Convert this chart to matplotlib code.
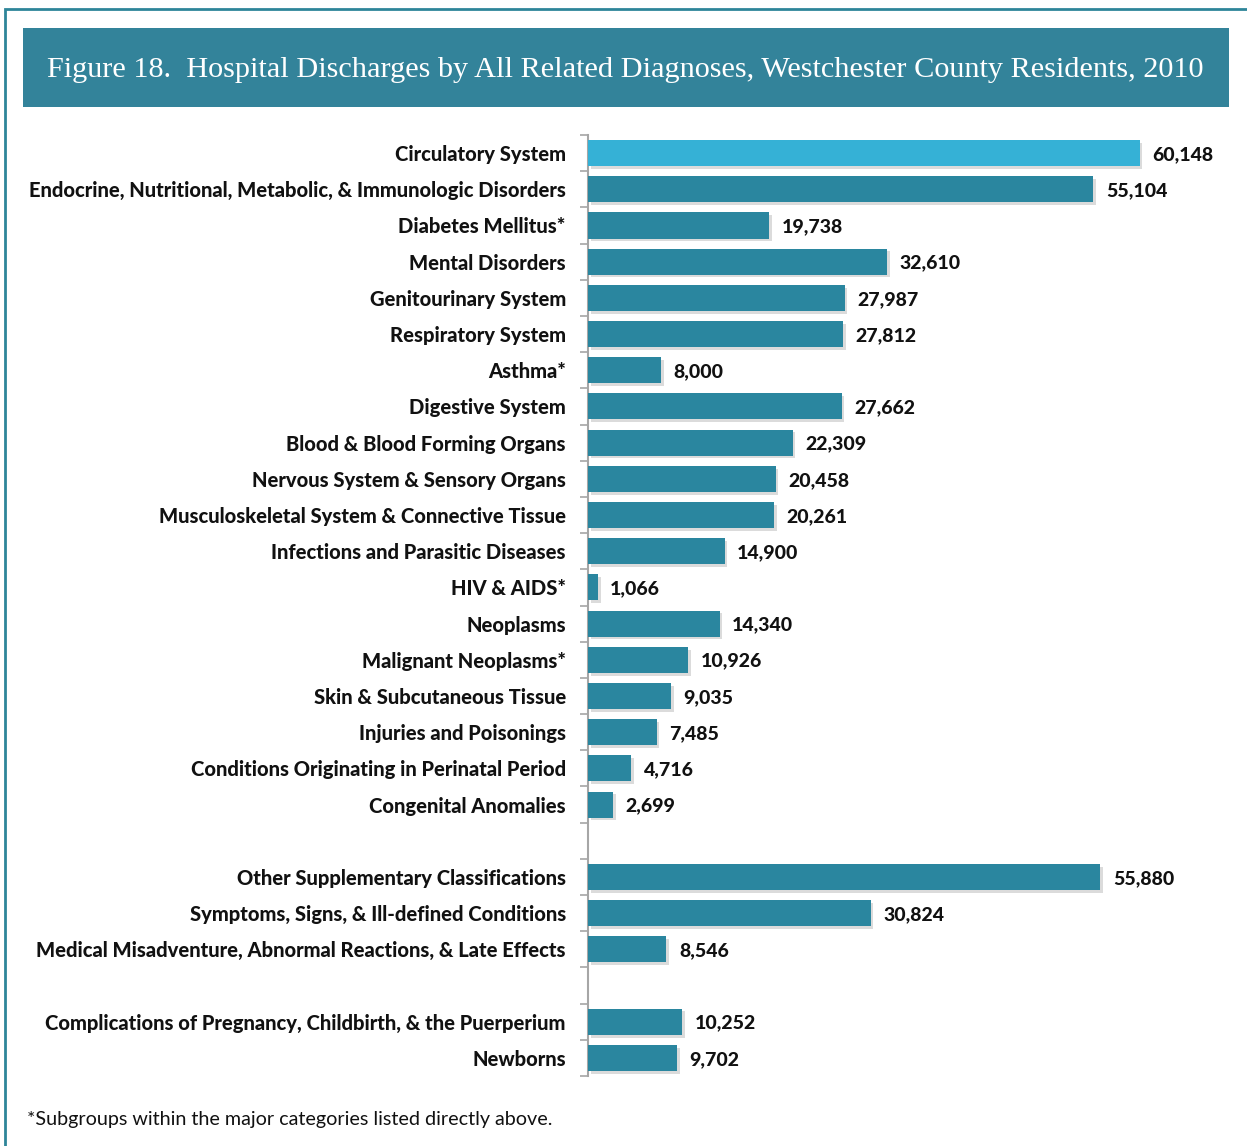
import numpy as np
import matplotlib as mpl, matplotlib.pyplot as plt
import matplotlib.patheffects as pe
from matplotlib.patches import Rectangle

TEAL="#2A869F"; HILITE="#35B1D6"; BANNER="#33839A"; INK="#111111"; AXIS="#A6A6A6"

# ---- data (three groups, blank slot between groups) ----
grp1_labels=["Circulatory System","Endocrine, Nutritional, Metabolic, & Immunologic Disorders",
    "Diabetes Mellitus*","Mental Disorders","Genitourinary System","Respiratory System","Asthma*",
    "Digestive System","Blood & Blood Forming Organs","Nervous System & Sensory Organs",
    "Musculoskeletal System & Connective Tissue","Infections and Parasitic Diseases","HIV & AIDS*",
    "Neoplasms","Malignant Neoplasms*","Skin & Subcutaneous Tissue","Injuries and Poisonings",
    "Conditions Originating in Perinatal Period","Congenital Anomalies"]
grp1_values=[60148,55104,19738,32610,27987,27812,8000,27662,22309,20458,20261,14900,1066,
    14340,10926,9035,7485,4716,2699]
grp2_labels=["Other Supplementary Classifications","Symptoms, Signs, & Ill-defined Conditions",
    "Medical Misadventure, Abnormal Reactions, & Late Effects"]
grp2_values=[55880,30824,8546]
grp3_labels=["Complications of Pregnancy, Childbirth, & the Puerperium","Newborns"]
grp3_values=[10252,9702]

labels=[]; values=[]
for i,(l,v) in enumerate([(grp1_labels,grp1_values),(grp2_labels,grp2_values),(grp3_labels,grp3_values)]):
    if i>0: labels.append(""); values.append(np.nan)
    labels+=l; values+=v
pos=np.arange(len(labels))

mpl.rcParams.update({"font.family":"Lato","figure.facecolor":"white"})
W,H=1247,1146
fig=plt.figure(figsize=(W/100,H/100),dpi=100)

# outer frame + title banner
fig.add_artist(Rectangle((5/W,-0.01),1.0,1-9/H+0.01,transform=fig.transFigure,
    fill=False,ec="#2E8599",lw=2))
fig.add_artist(Rectangle((23/W,1-107/H),(1229-23)/W,79/H,transform=fig.transFigure,
    fc=BANNER,ec="none"))
fig.text(47/W,1-70/H,"Figure 18.  Hospital Discharges by All Related Diagnoses, Westchester County Residents, 2010",
    family="Liberation Serif",fontsize=21.8,color="white",va="center",ha="left")

ax=fig.add_axes([588/W,1-1076/H,642/W,(1076-135)/H])
colors=[HILITE if i==0 else TEAL for i in range(len(labels))]
bars=ax.barh(pos,values,height=0.72,color=colors,zorder=3)
for b in bars:
    b.set_path_effects([pe.SimplePatchShadow(offset=(2,-2),shadow_rgbFace="#888888",alpha=0.3),pe.Normal()])
for p,v in zip(pos,values):
    if np.isnan(v): continue
    ax.annotate(f"{v:,.0f}",(v,p),xytext=(9,-1),textcoords="offset points",va="center",ha="left",
        fontsize=14,weight=900,color=INK)

ax.set_ylim(len(labels)-0.5,-0.5); ax.set_xlim(0,70000)
ax.set_yticks(pos); ax.set_yticklabels(labels,fontsize=14.5,weight=900,color=INK)
ax.set_yticks(np.arange(-0.5,len(labels)),minor=True)
ax.tick_params(axis="y",which="major",length=0,pad=16)
ax.tick_params(axis="y",which="minor",length=6,color=AXIS,width=1.2,direction="out")
ax.set_xticks([])
for s in ["top","right","bottom"]: ax.spines[s].set_visible(False)
ax.spines["left"].set_color(AXIS); ax.spines["left"].set_linewidth(1.5)
ax.set_facecolor("none")

fig.text(27/W,1-1120/H,"*Subgroups within the major categories listed directly above.",
    fontsize=14.2,color=INK,va="center",ha="left")

fig.savefig("out.png",dpi=100)
